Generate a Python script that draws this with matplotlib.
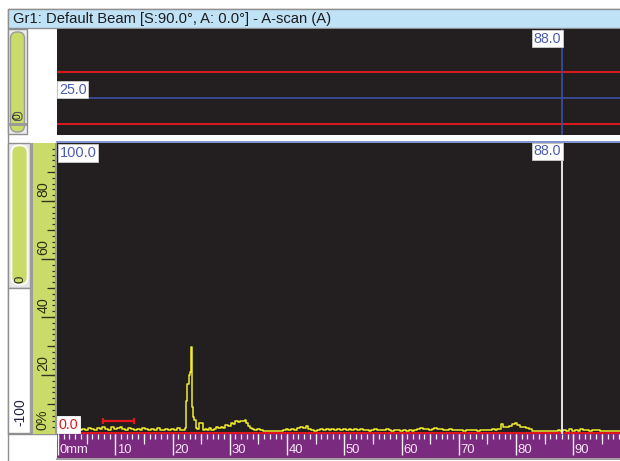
import matplotlib
matplotlib.use('Agg')
import matplotlib.pyplot as plt
from matplotlib.patches import Rectangle, FancyBboxPatch
import matplotlib.transforms as mtransforms

plt.rcParams['font.family'] = ['Liberation Sans', 'DejaVu Sans']

# ---------------- data ----------------
title = "Gr1: Default Beam [S:90.0°, A: 0.0°] - A-scan (A)"

scan_mm = [0.0, 0.5, 1.0, 1.5, 2.0, 2.5, 3.0, 3.5, 4.0, 4.5, 5.0, 5.5, 6.0, 6.5, 7.0, 7.5,
           8.0, 8.5, 9.0, 9.5, 10.0, 10.5, 11.0, 11.5, 12.0, 12.5, 13.0, 13.5, 14.0, 14.5,
           15.0, 15.5, 16.0, 16.5, 17.0, 17.5, 18.0, 18.5, 19.0, 19.5, 20.0, 20.5, 21.0,
           21.5, 22.0, 22.3, 22.5, 22.7, 23.0, 23.15, 23.25, 23.4, 23.55, 23.7, 23.95,
           24.2, 24.5, 24.9, 25.2, 25.4, 25.8, 26.2, 26.6, 27.0, 27.4, 27.8, 28.2, 28.6,
           29.0, 29.5, 30.0, 30.4, 30.8, 31.2, 31.6, 32.0, 32.4, 32.8, 33.0, 33.3, 33.7,
           34.1, 34.5, 35.0, 35.5, 36.0, 37.0, 38.0, 39.0, 39.5, 40.0, 40.5, 41.0, 41.5,
           42.0, 42.5, 43.0, 43.5, 44.0, 44.5, 45.0, 45.5, 46.0, 46.5, 47.0, 47.5, 48.0,
           48.5, 49.0, 49.5, 50.0, 50.5, 51.0, 51.5, 52.0, 52.5, 53.0, 53.5, 54.0, 54.5,
           55.0, 55.5, 56.0, 56.5, 57.0, 57.5, 58.0, 58.5, 59.0, 59.5, 60.0, 60.5, 61.0,
           61.5, 62.0, 62.5, 63.0, 63.5, 64.0, 64.5, 65.0, 65.5, 66.0, 66.5, 67.0, 67.5,
           68.0, 68.5, 69.0, 69.5, 70.0, 70.5, 71.0, 71.5, 72.0, 72.5, 73.0, 73.5, 74.0,
           74.5, 75.0, 75.5, 76.0, 76.5, 77.0, 77.6, 77.9, 78.5, 79.0, 79.5, 80.0, 80.4,
           81.0, 81.5, 82.0, 82.5, 83.0, 84.0, 85.0, 86.0, 87.0, 87.5, 88.0, 88.5, 89.0,
           89.5, 90.0, 90.5, 91.0, 91.5, 92.0, 92.5, 93.0, 93.5, 94.0, 94.5, 95.0, 96.0,
           97.0, 98.3]
scan_amp = [1.2, 1.5, 1.0, 1.8, 1.2, 1.0, 1.6, 1.3, 1.0, 1.5, 1.2, 1.8, 1.4, 1.1, 1.7, 1.3,
            2.0, 1.5, 1.2, 1.9, 1.4, 1.6, 2.1, 1.5, 1.2, 1.7, 1.3, 1.0, 1.5, 1.2,
            1.7, 1.3, 1.0, 1.4, 1.1, 1.6, 1.2, 1.0, 1.5, 1.1, 1.4, 1.0, 1.6,
            1.2, 1.0, 1.8, 11.0, 17.0, 20.0, 21.0, 29.8, 19.0, 9.0, 5.5, 4.5,
            1.8, 1.5, 3.5, 3.5, 1.0, 1.4, 1.0, 1.6, 1.2, 1.5, 2.0, 1.6, 2.1,
            1.8, 2.7, 2.5, 3.6, 3.2, 4.2, 3.8, 4.3, 4.1, 4.6, 3.5, 2.4, 1.6,
            1.4, 1.2, 1.4, 0.9, 0.7, 0.7, 0.7, 0.7, 1.0, 1.3, 1.1, 1.5, 1.2,
            1.6, 2.2, 1.8, 2.3, 1.5, 1.2, 0.7, 1.0, 1.3, 1.1, 1.4, 1.0, 1.5,
            1.2, 1.4, 1.0, 1.3, 1.1, 1.5, 1.2, 1.4, 1.0, 1.3, 1.0, 1.2, 0.8,
            1.1, 1.3, 0.9, 1.2, 1.0, 1.4, 1.0, 0.8, 1.2, 0.9, 0.7, 1.0, 0.8,
            1.1, 0.8, 1.0, 1.3, 1.6, 1.3, 1.5, 1.2, 1.4, 1.6, 1.3, 1.5, 1.2,
            1.0, 1.3, 1.1, 0.9, 1.2, 1.0, 0.8, 1.1, 0.9, 1.2, 1.0, 0.8, 1.1,
            0.9, 1.2, 1.0, 1.3, 1.1, 1.4, 3.0, 2.2, 2.0, 2.4, 3.1, 3.3, 2.6,
            2.2, 2.0, 1.6, 1.5, 0.7, 0.7, 0.7, 0.7, 0.7, 1.0, 0.6, 1.2, 0.8,
            1.3, 0.8, 1.2, 0.8, 1.3, 0.9, 1.2, 0.8, 1.1, 0.9, 1.2, 0.7, 0.7,
            0.7, 0.7]

cursor_mm = 88.0
cursor_label = "88.0"
amp_top_label = "100.0"
amp_zero_label = "0.0"
gate_start_mm = 7.9
gate_end_mm = 13.3
gate_level = 4.1

top_red_levels = [63, 11]
top_blue_level = 37
top_blue_label = "25.0"

ruler_labels = [80, 60, 40, 20]
x_label_values = [0, 10, 20, 30, 40, 50, 60, 70, 80, 90]
x_label_texts = ["0mm", "10", "20", "30", "40", "50", "60", "70", "80", "90"]

# ---------------- styling ----------------
W, H = 620, 461
DARK = '#231f20'
GREEN = '#cbdb6a'
PURPLE = '#7b2b7f'
BLUE_TXT = '#4d5db0'
RED = '#e3161d'
GRAY = '#8f8f8f'
XMIN = (57 - 58) / 5.725
XMAX = (620 - 58) / 5.725

fig = plt.figure(figsize=(W / 100, H / 100), dpi=100)
fig.patch.set_facecolor('white')

bg = fig.add_axes([0, 0, 1, 1])
bg.set_xlim(0, W)
bg.set_ylim(H, 0)
bg.axis('off')


def px_axes(x0, y0, x1, y1):
    return fig.add_axes([x0 / W, 1 - y1 / H, (x1 - x0) / W, (y1 - y0) / H])


# outer frame + title bar
bg.add_patch(Rectangle((7.5, 9.5), 613, 452, fc='white', ec=GRAY, lw=1))
bg.add_patch(Rectangle((7.5, 9.5), 613, 19, fc='#c0e2f6', ec=GRAY, lw=1))
bg.text(13, 19.5, title, fontsize=10.6, color='#1c1c1c', va='center', ha='left')

# top slider
bg.add_patch(Rectangle((8, 29.5), 19, 105, fc='#ececec', ec=GRAY, lw=1))
bg.add_patch(FancyBboxPatch((10.5, 32), 14, 100, boxstyle='round,pad=0,rounding_size=6.5',
                            fc=GREEN, ec='#9a9a9a', lw=1))
bg.add_patch(Rectangle((8, 122.5), 19, 3.5, fc='#9a9a9a', ec='none'))
bg.add_patch(FancyBboxPatch((13, 112.5), 9, 8, boxstyle='round,pad=0,rounding_size=3',
                            fc=GREEN, ec='#555555', lw=0.8))
bg.text(17.6, 116.5, "0", rotation=90, fontsize=7.5, ha='center', va='center', color='#222222')

# bottom left slider
bg.add_patch(Rectangle((8, 142.5), 22, 145, fc='#e8e8e8', ec=GRAY, lw=1))
bg.add_patch(FancyBboxPatch((11.5, 145.5), 16, 139, boxstyle='round,pad=0,rounding_size=7',
                            fc=GREEN, ec='white', lw=1.2))
bg.text(20, 279, "0", rotation=90, fontsize=9.5, ha='center', va='center', color='#2a2a2a')
bg.add_patch(Rectangle((8, 288), 22, 145, fc='white', ec=GRAY, lw=1))
bg.text(20.5, 412, "-100", rotation=90, fontsize=10, ha='center', va='center', color='#222244')

# separators around ruler
bg.add_patch(Rectangle((29.5, 142.5), 3, 291, fc='#9c9c9c', ec='none'))
bg.add_patch(Rectangle((55, 142.5), 2.5, 291, fc='#9c9c9c', ec='none'))
bg.plot([8, 57], [434, 434], color=GRAY, lw=1)
bg.plot([57, 620], [458.5, 458.5], color=GRAY, lw=1.2)
bg.plot([57, 620], [142.3, 142.3], color='#6a80c8', lw=1.2)

# ---------------- top panel ----------------
axt = px_axes(57, 29, 620, 135)
axt.set_facecolor(DARK)
axt.set_xlim(XMIN, XMAX)
axt.set_ylim(0, 106)
for lv in top_red_levels:
    axt.axhline(lv, color='#d4191f', lw=1.5)
axt.axhline(top_blue_level, color='#3c50a4', lw=1.2)
axt.axvline(cursor_mm, color='#3c50a4', lw=1.2)
for s in axt.spines.values():
    s.set_visible(False)
axt.set_xticks([])
axt.set_yticks([])
bt = mtransforms.blended_transform_factory(axt.transData, axt.transAxes)
axt.text(cursor_mm - 0.12, 0.975, cursor_label, transform=bt, ha='right', va='top',
         fontsize=10.3, color=BLUE_TXT,
         bbox=dict(boxstyle='square,pad=0.12', fc='white', ec='#cccccc', lw=0.6))
axt.text(0.2, top_blue_level + 1.3, top_blue_label, ha='left', va='bottom', fontsize=10.3,
         color=BLUE_TXT, bbox=dict(boxstyle='square,pad=0.12', fc='white', ec='#cccccc', lw=0.6))

# ---------------- main panel ----------------
ax = px_axes(57, 143, 620, 434)
ax.set_facecolor(DARK)
ax.set_xlim(XMIN, XMAX)
ax.set_ylim(-0.35, 100)
for s in ax.spines.values():
    s.set_visible(False)
ax.set_xticks([])
ax.set_yticks([])
ax.axhline(0, color=RED, lw=1.4, zorder=2)
ax.plot(scan_mm, scan_amp, color='#f1ec2c', lw=1.1, drawstyle='steps-mid', zorder=3)
ax.axvline(cursor_mm, color='#f4f4f4', lw=1.3, zorder=4)
ax.plot([gate_start_mm, gate_end_mm], [gate_level, gate_level], color=RED, lw=1.6, zorder=3)
ax.vlines([gate_start_mm, gate_end_mm], gate_level - 1.1, gate_level + 1.1, color=RED, lw=1.6, zorder=3)
bm = mtransforms.blended_transform_factory(ax.transData, ax.transAxes)
ax.text(cursor_mm - 0.12, 0.995, cursor_label, transform=bm, ha='right', va='top',
        fontsize=10.3, color=BLUE_TXT, zorder=6,
        bbox=dict(boxstyle='square,pad=0.12', fc='white', ec='#cccccc', lw=0.6))
ax.text(0.25, 0.99, amp_top_label, transform=bm, ha='left', va='top', fontsize=10.5,
        color=BLUE_TXT, zorder=6,
        bbox=dict(boxstyle='square,pad=0.12', fc='white', ec='#cccccc', lw=0.6))
ax.text(0.1, 0.5, amp_zero_label, ha='left', va='bottom', fontsize=10.3, color=RED, zorder=6,
        bbox=dict(boxstyle='square,pad=0.12', fc='white', ec='white', lw=0.6))

# ---------------- amplitude ruler ----------------
axr = px_axes(32.5, 143, 55, 434)
axr.set_facecolor(GREEN)
axr.set_xlim(0, 1)
axr.set_ylim(-0.35, 100)
for s in axr.spines.values():
    s.set_visible(False)
axr.set_xticks([])
axr.set_yticks([])
minor_r = list(range(2, 100, 2))
axr.hlines(minor_r, 1 - 3.5 / 22.5, 1, color='#333322', lw=0.9)
axr.hlines(list(range(10, 100, 20)), 1 - 8 / 22.5, 1, color='#333322', lw=0.9)
axr.hlines(ruler_labels, 1 - 14 / 22.5, 1, color='#333322', lw=1.0)
for v in ruler_labels:
    axr.text(0.48, v + 4.2, str(v), rotation=90, ha='center', va='center', fontsize=10.3,
             color='#2f2f14')
axr.text(0.45, 4.6, "0%", rotation=90, ha='center', va='center', fontsize=10.3, color='#2f2f14')

# ---------------- distance axis band ----------------
axx = px_axes(57, 434, 620, 458)
axx.set_facecolor(PURPLE)
axx.set_xlim(XMIN, XMAX)
axx.set_ylim(0, 1)
for s in axx.spines.values():
    s.set_visible(False)
axx.set_xticks([])
axx.set_yticks([])
minor_x = list(range(0, 99))
axx.vlines(minor_x, 1 - 4.5 / 24, 1, color='#f2f2f2', lw=0.9)
axx.vlines(list(range(5, 99, 10)), 1 - 10 / 24, 1, color='#f2f2f2', lw=0.9)
axx.vlines(x_label_values, 1 - 21 / 24, 1, color='#f2f2f2', lw=1.0)
for v, t in zip(x_label_values, x_label_texts):
    axx.text(v + 0.25, 0.32, t, ha='left', va='center', fontsize=9.4, color='#f6e4f6')

fig.savefig('out.png', dpi=100, facecolor='white')
